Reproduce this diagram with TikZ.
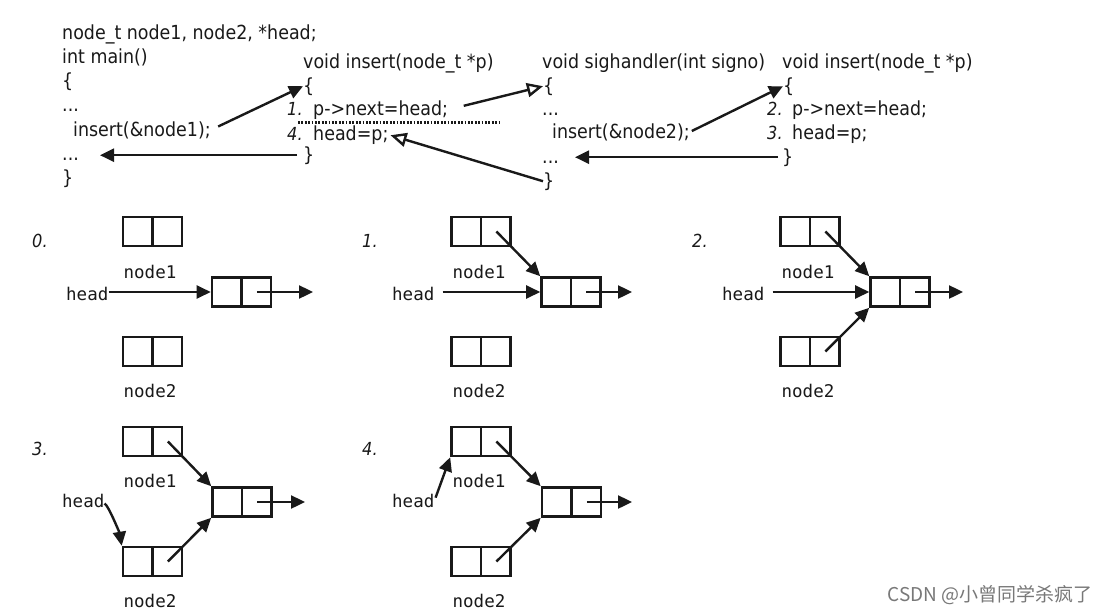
\documentclass[tikz,border=0pt]{standalone}
\usepackage{fontspec}
\setmainfont{DejaVu Sans}[FakeStretch=0.9]
\newfontfamily\monof{DejaVu Sans Mono}
\newfontfamily\cjkf{Noto Sans CJK SC}
\usetikzlibrary{arrows.meta,calc}
\definecolor{wm}{RGB}{120,120,120}
\definecolor{ink}{RGB}{25,25,25}
\begin{document}
\begin{tikzpicture}[x=1pt,y=-1pt,
 code/.style={anchor=base west,inner sep=0pt,text=ink,font=\fontsize{19.4}{24}\selectfont},
 num/.style={anchor=base west,inner sep=0pt,text=ink,font=\fontsize{18}{20}\selectfont\itshape},
 lab/.style={anchor=base west,inner sep=0pt,text=ink,font=\monof\fontsize{17.5}{20}\selectfont},
 cell/.style={draw=ink,line width=2.6pt,minimum width=59pt,minimum height=29pt,inner sep=0pt,
   path picture={\draw[ink,line width=2.6pt] (path picture bounding box.north)--(path picture bounding box.south);}},
 fa/.style={draw=ink,line width=2.4pt,-{Triangle[length=14pt,width=13pt]}},
 oa/.style={draw=ink,line width=2.4pt,-{Triangle[open,length=16pt,width=14pt,fill=white]}},
 sepline/.style={draw=ink,line width=2.4pt,dash pattern=on 1.7pt off 1.7pt},
]
\useasboundingbox (0,0) rectangle (1103,613);
\fill[white] (0,0) rectangle (1103,613);

% ---- code: main
\node[code] (l1) at (62,39) {node\_t node1, node2, *head;};
\node[code] (l2) at (62,63) {int main()};
\node[code] (l3) at (62,87) {\{};
\node[code] (l4) at (62,111) {...};
\node[code] (l5) at (73,136) {insert(\&node1);};
\node[code] (l6) at (62,160) {...};
\node[code] (l7) at (62,184) {\}};

% ---- code: insert (first)
\node[code] (m1) at (303,68) {void insert(node\_t *p)};
\node[code] (m2) at (303,92) {\{};
\node[num] (m3n) at (287,115) {1.};
\node[code] (m3) at (313,115) {p->next=head;};
\node[num] (m4n) at (287,140) {4.};
\node[code] (m4) at (313,140) {head=p;};
\node[code] (m5) at (303,161) {\}};
\draw[sepline] (298,122.5) -- (500,122.5);

% ---- code: sighandler
\node[code] (s1) at (542,68) {void sighandler(int signo)};
\node[code] (s2) at (543,92) {\{};
\node[code] (s3) at (542,115) {...};
\node[code] (s4) at (552,138) {insert(\&node2);};
\node[code] (s5) at (542,163) {...};
\node[code] (s6) at (543,187) {\}};

% ---- code: insert (second)
\node[code] (r1) at (782,68) {void insert(node\_t *p)};
\node[code] (r2) at (783,92) {\{};
\node[num] (r3n) at (767,115) {2.};
\node[code] (r3) at (792,115) {p->next=head;};
\node[num] (r4n) at (767,139) {3.};
\node[code] (r4) at (792,139) {head=p;};
\node[code] (r5) at (782,163) {\}};

% ---- code arrows
\draw[fa,shorten <=8pt] (l5.east) -- (m2.west);
\coordinate (ret1) at (100,0);
\draw[fa,shorten <=6pt] (m5.west) -- (m5.west -| ret1);
\draw[oa,shorten <=16pt] (m3.east) -- (s2.west);
\draw[oa,shorten >=2pt] (s6.west) -- (m4.east);
\draw[fa,shorten <=2pt] (s4.east) -- (r2.west);
\coordinate (ret2) at (575,0);
\draw[fa,shorten <=4pt] (r5.west) -- (r5.west -| ret2);

% ---- panel 0
\node[num] (p0) at (32,247) {0.};
\node[cell] (a1) at (152.5,231.5) {};
\node[lab,anchor=base] (a1l) at (150,278) {node1};
\node[cell] (am) at (241.5,292) {};
\node[cell] (a2) at (152.5,351.5) {};
\node[lab,anchor=base] (a2l) at (150,397) {node2};
\node[lab] (ah) at (66,300) {head};
\draw[fa] (ah.east |- am.west) -- (am.west);
\coordinate (ao) at (313,292);
\draw[fa] ($(am.center)!0.5!(am.east)$) -- (ao);

% ---- panel 1
\node[num] (p1) at (362,247) {1.};
\node[cell] (b1) at (481,231.5) {};
\node[lab,anchor=base] (b1l) at (479,278) {node1};
\node[cell] (bm) at (571,292) {};
\node[cell] (b2) at (481,351.5) {};
\node[lab,anchor=base] (b2l) at (479,397) {node2};
\node[lab] (bh) at (392,300) {head};
\draw[fa,shorten <=8pt] (bh.east |- bm.west) -- (bm.west);
\draw[fa] ($(b1.center)!0.5!(b1.east)$) -- (bm.north west);
\coordinate (bo) at (632,292);
\draw[fa] ($(bm.center)!0.5!(bm.east)$) -- (bo);

% ---- panel 2
\node[num] (p2) at (692,247) {2.};
\node[cell] (c1) at (810,231.5) {};
\node[lab,anchor=base] (c1l) at (808,278) {node1};
\node[cell] (cm) at (900,292) {};
\node[cell] (c2) at (810,351.5) {};
\node[lab,anchor=base] (c2l) at (808,397) {node2};
\node[lab] (ch) at (722,300) {head};
\draw[fa,shorten <=8pt] (ch.east |- cm.west) -- (cm.west);
\draw[fa] ($(c1.center)!0.5!(c1.east)$) -- (cm.north west);
\draw[fa] ($(c2.center)!0.5!(c2.east)$) -- (cm.south west);
\coordinate (co) at (963,292);
\draw[fa] ($(cm.center)!0.5!(cm.east)$) -- (co);

% ---- panel 3
\node[num] (p3) at (32,455) {3.};
\node[cell] (d1) at (152.5,441.5) {};
\node[lab,anchor=base] (d1l) at (150,487) {node1};
\node[cell] (dm) at (242,502) {};
\node[cell] (d2) at (152.5,561.5) {};
\node[lab,anchor=base] (d2l) at (150,607) {node2};
\node[lab] (dh) at (62,507) {head};
\draw[fa] ([yshift=-3pt]dh.east) .. controls +(4,2) and +(-2,-12) .. (d2.north west);
\draw[fa] ($(d1.center)!0.5!(d1.east)$) -- (dm.north west);
\draw[fa] ($(d2.center)!0.5!(d2.east)$) -- (dm.south west);
\coordinate (do) at (305,502);
\draw[fa] ($(dm.center)!0.5!(dm.east)$) -- (do);

% ---- panel 4
\node[num] (p4) at (362,455) {4.};
\node[cell] (e1) at (481,441.5) {};
\node[lab,anchor=base] (e1l) at (479,487) {node1};
\node[cell] (em) at (571.5,502) {};
\node[cell] (e2) at (481,561.5) {};
\node[lab,anchor=base] (e2l) at (479,607) {node2};
\node[lab] (eh) at (392,507) {head};
\draw[fa,shorten <=3pt] (eh.east) -- (e1.south west);
\draw[fa] ($(e1.center)!0.5!(e1.east)$) -- (em.north west);
\draw[fa] ($(e2.center)!0.5!(e2.east)$) -- (em.south west);
\coordinate (eo) at (632,502);
\draw[fa] ($(em.center)!0.5!(em.east)$) -- (eo);

% ---- watermark text
\node[anchor=base east,inner sep=0pt,text=wm,font=\cjkf\fontsize{19}{22}\selectfont] (csdn) at (1093,601) {CSDN @小曾同学杀疯了};
\end{tikzpicture}
\end{document}
